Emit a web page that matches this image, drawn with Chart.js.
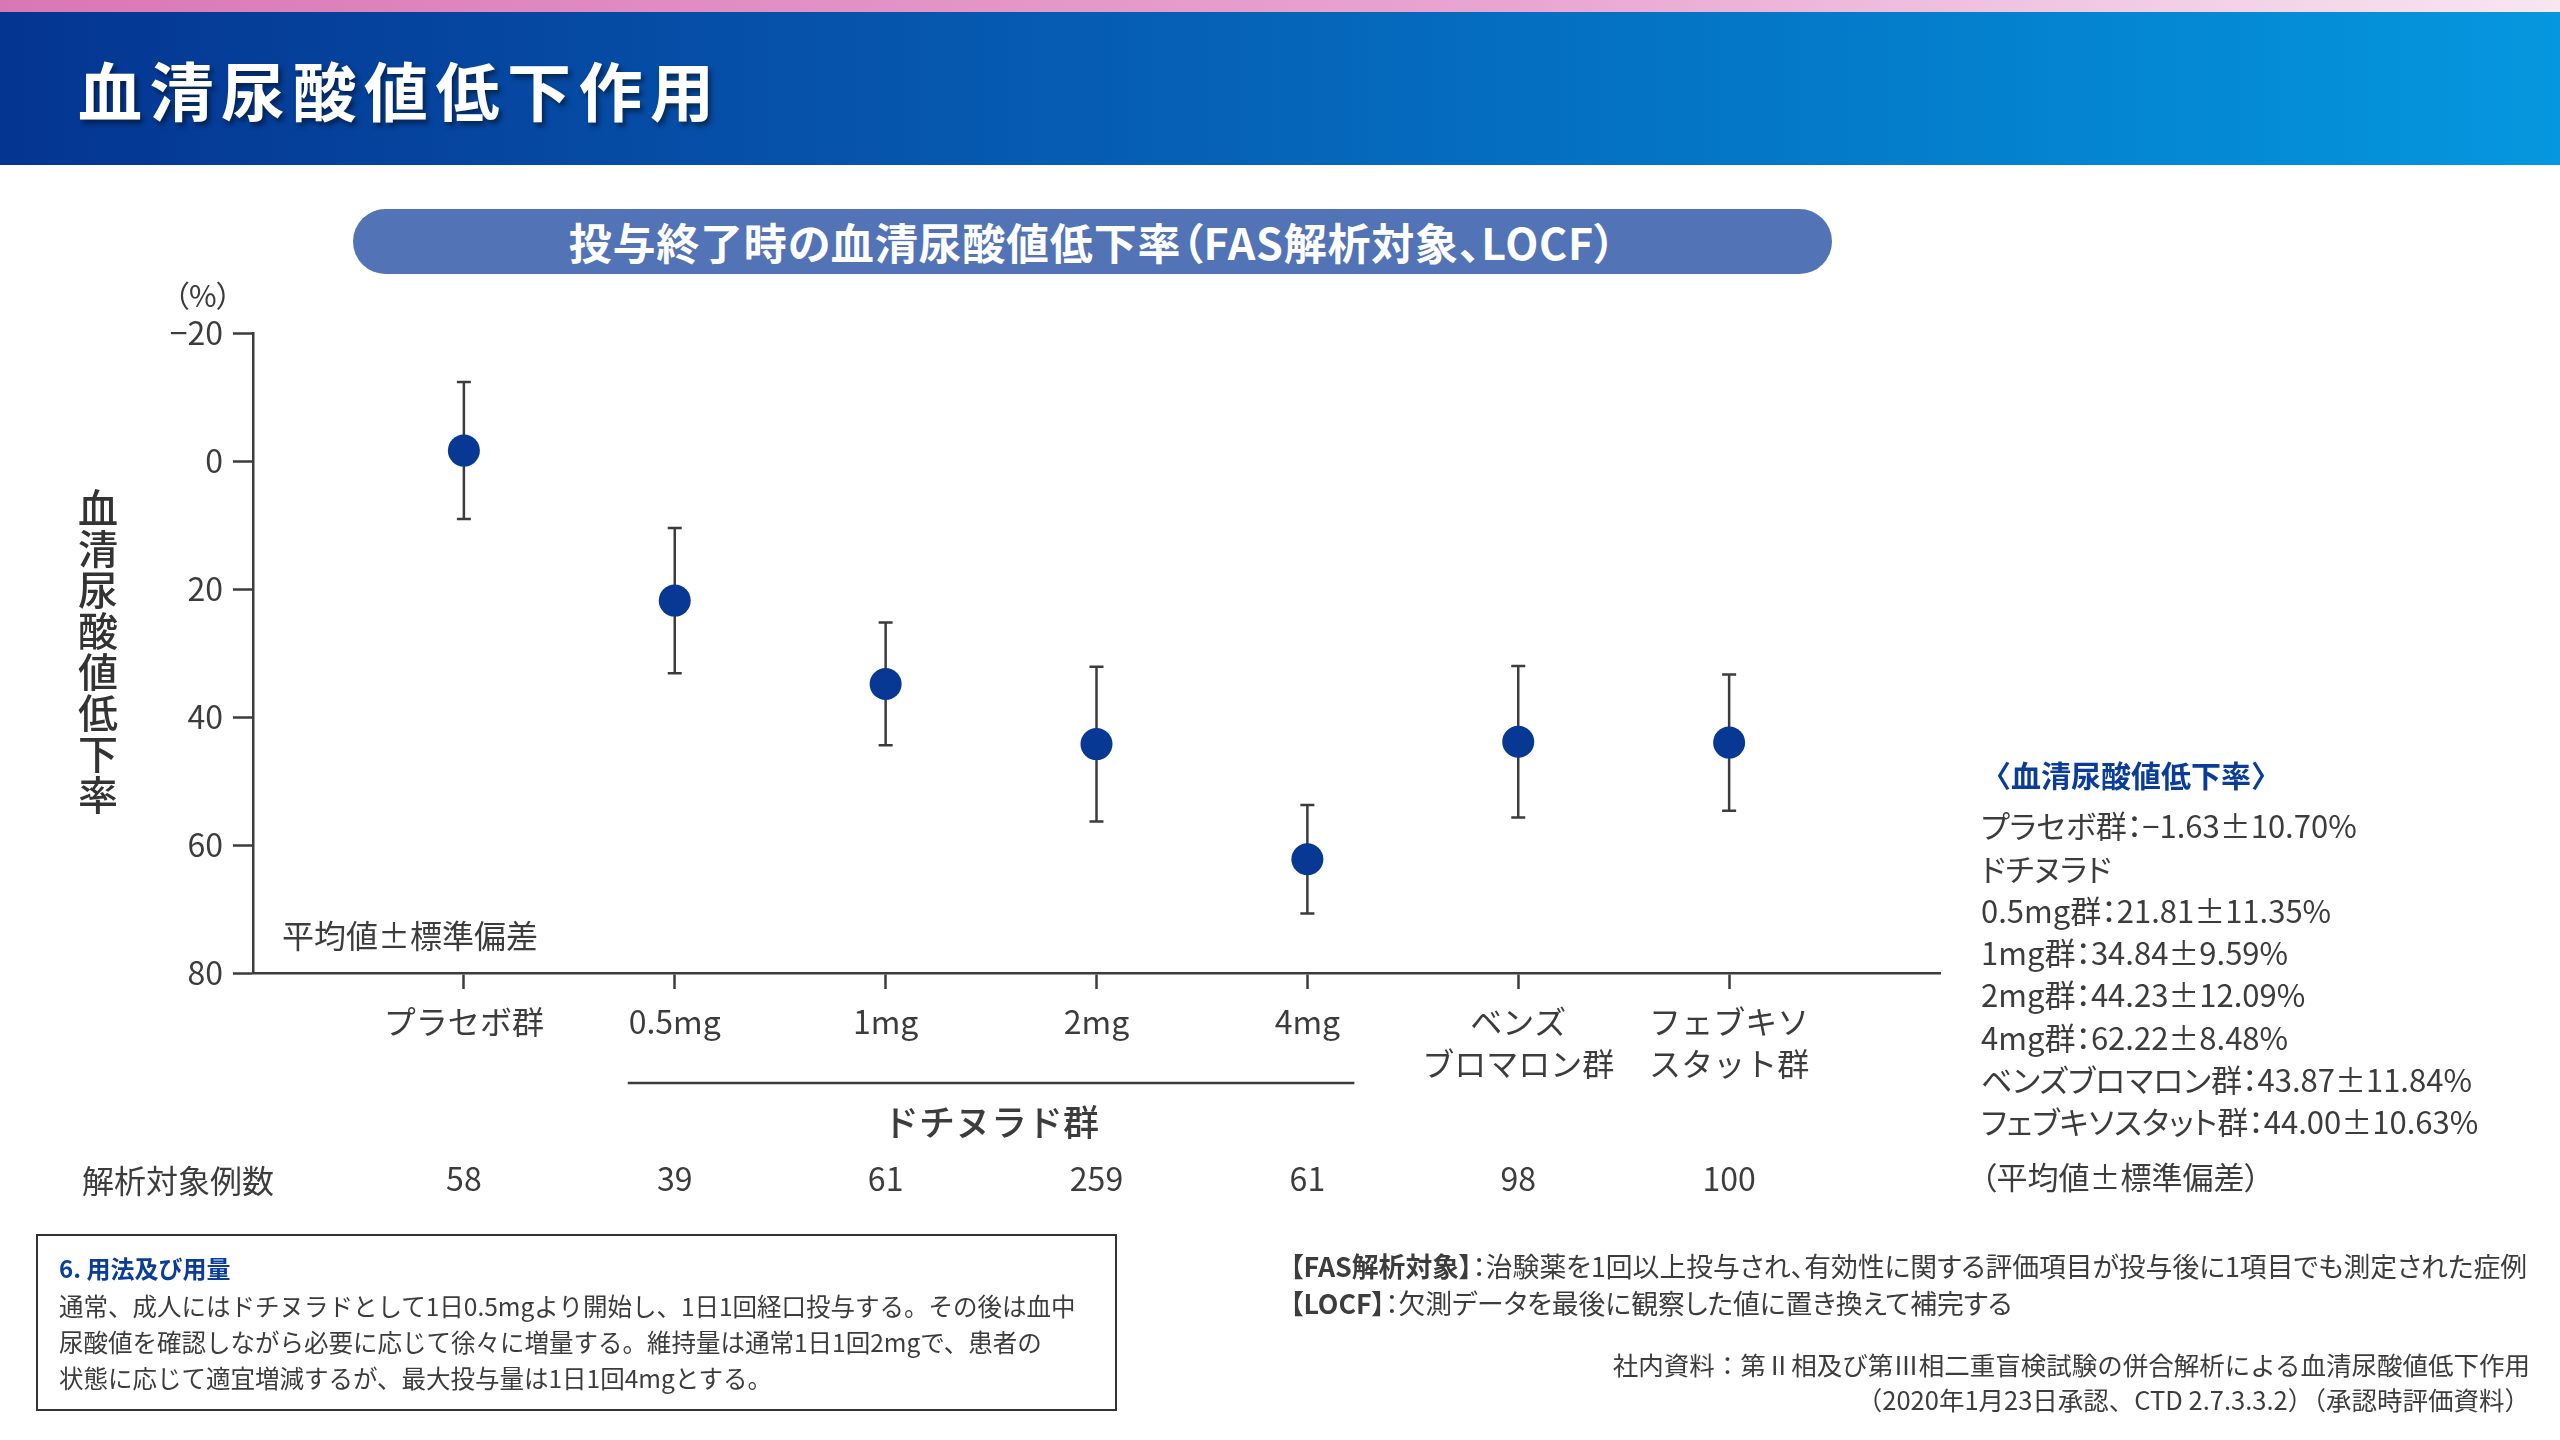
<!DOCTYPE html>
<html lang="ja">
<head>
<meta charset="utf-8">
<script src="https://cdn.jsdelivr.net/npm/chart.js@4.4.1/dist/chart.umd.min.js"></script>
<style>
  html, body { margin: 0; padding: 0; background: #fff; }
  body { width: 2560px; height: 1440px; position: relative; overflow: hidden;
         font-family: "Noto Sans CJK JP", "Noto Sans", sans-serif; color: #3c3c3c; }
  .abs { position: absolute; white-space: nowrap; }
  #pink { left: 0; top: 0; width: 2560px; height: 12px;
          background: linear-gradient(to right, #d977b5, #e9a6d2 60%, #f8e6f0); }
  #head { left: 0; top: 12px; width: 2560px; height: 153px;
          background: linear-gradient(to right, #043591, #0655ad 35%, #0479c8 70%, #0597df); }
  #title { left: 78px; top: 50px; font-size: 64px; font-weight: 700; color: #fff;
           letter-spacing: 7.5px; line-height: 76px; text-shadow: 3px 4px 5px rgba(0,0,0,0.45); }
  #pill { left: 353px; top: 209px; width: 1479px; height: 65px; border-radius: 33px;
          background: #5273b5; color: #fff; font-size: 43px; font-weight: 700; letter-spacing: 0.8px;
          text-align: center; line-height: 65px; font-feature-settings: "palt"; }
  #wrap { left: 0; top: 0; width: 2560px; height: 1440px; }
  #pct { left: 174px; top: 274px; font-size: 30px; line-height: 40px; font-feature-settings: "palt"; }
  #ytitle { left: 76px; top: 488px; font-size: 40px; font-weight: 500; writing-mode: vertical-rl;
            letter-spacing: 1px; line-height: 44px; color: #333; }
  #sdnote { left: 282px; top: 914px; font-size: 32px; line-height: 40px; }
  #nlabel { left: 82px; top: 1159px; font-size: 32px; line-height: 40px; }
  #legend { left: 1981px; top: 753px; font-size: 31px; line-height: 42.3px; font-feature-settings: "palt"; }
  #legend .h { color: #0a3c99; font-weight: 700; font-size: 30px; margin-bottom: 9px; font-feature-settings: normal; }
  #legend .f { margin-top: 12px; }
  #box { left: 36px; top: 1234px; width: 1077px; height: 173px; border: 2px solid #333; }
  #box .h { position: absolute; left: 21px; top: 14px; font-size: 24px; font-weight: 700;
            color: #0a3c99; line-height: 36px; }
  #box .b { position: absolute; left: 21px; top: 52px; font-size: 24.5px; line-height: 36px; }
  #notes { left: 1290px; top: 1247px; font-size: 26.8px; line-height: 37px; font-feature-settings: "palt"; }
  #notes b { font-weight: 700; }
  #src { right: 30px; top: 1346px; font-size: 25.5px; line-height: 35px; text-align: right; }
</style>
</head>
<body>
<div class="abs" id="pink"></div>
<div class="abs" id="head"></div>
<div class="abs" id="title">血清尿酸値低下作用</div>
<div class="abs" id="pill">投与終了時の血清尿酸値低下率（FAS解析対象、LOCF）</div>
<div class="abs" id="wrap"><canvas id="chart"></canvas></div>
<div class="abs" id="pct">（%）</div>
<div class="abs" id="ytitle">血清尿酸値低下率</div>
<div class="abs" id="sdnote">平均値±標準偏差</div>
<div class="abs" id="nlabel">解析対象例数</div>
<div class="abs" id="legend"></div>
<div class="abs" id="box">
  <div class="h">6. 用法及び用量</div>
  <div class="b">通常、成人にはドチヌラドとして1日0.5mgより開始し、1日1回経口投与する。その後は血中<br>尿酸値を確認しながら必要に応じて徐々に増量する。維持量は通常1日1回2mgで、患者の<br>状態に応じて適宜増減するが、最大投与量は1日1回4mgとする。</div>
</div>
<div class="abs" id="notes"><b>【FAS解析対象】</b>：治験薬を1回以上投与され、有効性に関する評価項目が投与後に1項目でも測定された症例<br><b>【LOCF】</b>：欠測データを最後に観察した値に置き換えて補完する</div>
<div class="abs" id="src">社内資料：第Ⅱ相及び第Ⅲ相二重盲検試験の併合解析による血清尿酸値低下作用<br>（2020年1月23日承認、CTD 2.7.3.3.2）（承認時評価資料）</div>

<script>
// groups on the x axis
const categories = [
  'プラセボ群',
  '0.5mg',
  '1mg',
  '2mg',
  '4mg',
  ['ベンズ', 'ブロマロン群'],
  ['フェブキソ', 'スタット群']
];
const legendNames = ['プラセボ群', '0.5mg群', '1mg群', '2mg群', '4mg群', 'ベンズブロマロン群', 'フェブキソスタット群'];
const means = [-1.63, 21.81, 34.84, 44.23, 62.22, 43.87, 44.00];
const sds = [10.70, 11.35, 9.59, 12.09, 8.48, 11.84, 10.63];
const nCounts = [58, 39, 61, 259, 61, 98, 100];
const yTicks = [-20, 0, 20, 40, 60, 80];
const doseGroupLabel = 'ドチヌラド群';
const doseGroupRange = [1, 4];

const textColor = '#3c3c3c';
const font = '"Noto Sans CJK JP", "Noto Sans", sans-serif';
Chart.defaults.font.family = font;
Chart.defaults.color = textColor;

// side legend text
function fmt(v) {
  return (v < 0 ? '−' : '') + Math.abs(v).toFixed(2);
}
let html = '<div class="h">〈血清尿酸値低下率〉</div>';
legendNames.forEach((name, i) => {
  if (i === 1) html += '<div>ドチヌラド</div>';
  html += '<div>' + name + '：' + fmt(means[i]) + '±' + sds[i].toFixed(2) + '%</div>';
});
html += '<div class="f">（平均値±標準偏差）</div>';
document.getElementById('legend').innerHTML = html;

// error bars under the points, counts and dose bracket below the axis
const extras = {
  id: 'extras',
  beforeDatasetsDraw(chart) {
    const xs = chart.scales.x, ys = chart.scales.y, ctx = chart.ctx;
    ctx.save();
    ctx.strokeStyle = textColor;
    ctx.lineWidth = 2.5;
    means.forEach((m, i) => {
      const x = xs.getPixelForValue(i);
      const y1 = ys.getPixelForValue(m - sds[i]);
      const y2 = ys.getPixelForValue(m + sds[i]);
      ctx.beginPath();
      ctx.moveTo(x, y1); ctx.lineTo(x, y2);
      ctx.moveTo(x - 7, y1); ctx.lineTo(x + 7, y1);
      ctx.moveTo(x - 7, y2); ctx.lineTo(x + 7, y2);
      ctx.stroke();
    });
    ctx.restore();
  },
  afterDraw(chart) {
    const xs = chart.scales.x, ctx = chart.ctx;
    ctx.save();
    ctx.fillStyle = textColor;
    ctx.textAlign = 'center';
    ctx.textBaseline = 'middle';
    ctx.font = '32px ' + font;
    nCounts.forEach((n, i) => ctx.fillText(String(n), xs.getPixelForValue(i), 1179));
    const a = xs.getPixelForValue(doseGroupRange[0]) - 47;
    const b = xs.getPixelForValue(doseGroupRange[1]) + 47;
    ctx.strokeStyle = textColor;
    ctx.lineWidth = 2.5;
    ctx.beginPath();
    ctx.moveTo(a, 1083); ctx.lineTo(b, 1083);
    ctx.stroke();
    ctx.font = '500 36px ' + font;
    ctx.fillText(doseGroupLabel, (a + b) / 2, 1122);
    ctx.restore();
  }
};

const ctx = document.getElementById('chart').getContext('2d');
new Chart(ctx, {
  type: 'scatter',
  data: {
    datasets: [{
      data: means.map((m, i) => ({ x: i, y: m })),
      pointRadius: 16,
      pointHoverRadius: 16,
      pointBackgroundColor: '#063894',
      pointBorderWidth: 0,
      showLine: false
    }]
  },
  options: {
    responsive: true,
    maintainAspectRatio: false,
    devicePixelRatio: 1,
    animation: false,
    layout: { padding: { left: 153, top: 333, right: 620, bottom: 347 } },
    plugins: { legend: { display: false }, tooltip: { enabled: false } },
    scales: {
      x: {
        type: 'linear',
        min: -1,
        max: 7,
        afterBuildTicks: (s) => { s.ticks = categories.map((c, i) => ({ value: i })); },
        afterFit: (s) => { s.height = 120; },
        ticks: {
          autoSkip: false,
          maxRotation: 0,
          padding: 12,
          color: textColor,
          font: { size: 32, lineHeight: 1.3 },
          callback: (v) => categories[v]
        },
        grid: { drawOnChartArea: false, drawTicks: true, tickLength: 16, tickWidth: 2.5, tickColor: textColor },
        border: { display: true, color: textColor, width: 2.5 }
      },
      y: {
        reverse: true,
        min: -20,
        max: 80,
        afterBuildTicks: (s) => { s.ticks = yTicks.map((v) => ({ value: v })); },
        afterFit: (s) => { s.width = 100; },
        ticks: {
          padding: 10,
          color: textColor,
          font: { size: 32 },
          callback: (v) => (v < 0 ? '−' + Math.abs(v) : String(v))
        },
        grid: { drawOnChartArea: false, drawTicks: true, tickLength: 20, tickWidth: 2.5, tickColor: textColor },
        border: { display: true, color: textColor, width: 2.5 }
      }
    }
  },
  plugins: [extras]
});
</script>
</body>
</html>
